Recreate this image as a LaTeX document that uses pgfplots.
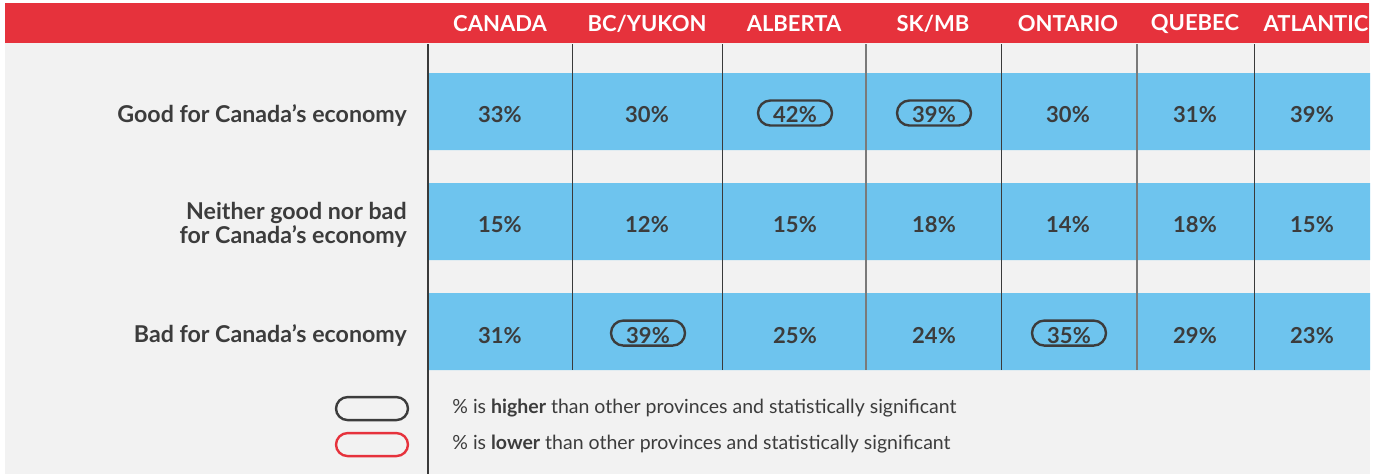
\documentclass[border=0pt]{standalone}
\usepackage{fontspec}
\setmainfont{Lato}
\usepackage{pgfplots}
\pgfplotsset{compat=1.18}
\usepackage{pgfplotstable}
\definecolor{hdr}{HTML}{E6323C}
\definecolor{band}{HTML}{6EC4EE}
\definecolor{bg}{HTML}{F2F2F2}
\definecolor{txt}{HTML}{3C3C3C}
\definecolor{linec}{HTML}{3A3A3A}
\definecolor{linel}{HTML}{7A7A7A}

% columns: x centre (px), row y (px), value (%)
\pgfplotstableread{
x y v
500 115 33
647 115 30
795 115 42
934 115 39
1068 115 30
1195 115 31
1312 115 39
500 225 15
647 225 12
795 225 15
934 225 18
1068 225 14
1195 225 18
1312 225 15
500 335 31
648 335 39
795 335 25
934 335 24
1069 335 35
1195 335 29
1312 335 23
}\vals

% significantly higher cells
\pgfplotstableread{
x y
795 113
934 113
648 333
1069 333
}\high

\begin{document}
\begin{tikzpicture}
\begin{axis}[
  scale only axis, width=688.5pt, height=237pt,
  xmin=0, xmax=1377, ymin=0, ymax=474, y dir=reverse,
  hide axis, clip=false,
]
\fill[white] (axis cs:0,0) rectangle (axis cs:1377,474);
\fill[bg] (axis cs:5,3) rectangle (axis cs:1370,474);
\fill[hdr] (axis cs:5,3) rectangle (axis cs:1369,43);

% blue row bands
\addplot[fill=band, draw=none] coordinates {(428,73) (1370,73) (1370,150) (428,150) (428,73)};
\addplot[fill=band, draw=none] coordinates {(428,183) (1370,183) (1370,260) (428,260) (428,183)};
\addplot[fill=band, draw=none] coordinates {(428,293) (1370,293) (1370,370) (428,370) (428,293)};

% column separators
\draw[linec, line width=0.6pt] (axis cs:428,44) -- (axis cs:428,474);
\draw[linec, line width=0.5pt] (axis cs:572,44) -- (axis cs:572,370);
\draw[linec, line width=0.5pt] (axis cs:722,44) -- (axis cs:722,370);
\draw[linel, line width=0.7pt] (axis cs:866,44) -- (axis cs:866,370);
\draw[linec, line width=0.5pt] (axis cs:1001,44) -- (axis cs:1001,370);
\draw[linel, line width=0.7pt] (axis cs:1137,44) -- (axis cs:1137,370);
\draw[linec, line width=0.5pt] (axis cs:1254,44) -- (axis cs:1254,370);

% header
\foreach \xx/\nn in {500/CANADA, 647/BC\slash YUKON, 794/ALBERTA, 933/SK\slash MB, 1068/ONTARIO, 1195/QUEBEC, 1316/ATLANTIC}{
  \edef\temp{\noexpand\node[text=white, font=\noexpand\fontsize{11}{13}\noexpand\selectfont\noexpand\bfseries, anchor=center] at (axis cs:\xx,24) {\nn};}
  \temp
}

% row labels
\node[anchor=east, inner sep=0pt, text=txt, font=\fontsize{11.6}{13}\selectfont\bfseries] at (axis cs:407,115) {Good for Canada’s economy};
\node[anchor=east, inner sep=0pt, text=txt, align=right, font=\fontsize{11.6}{12.2}\selectfont\bfseries] at (axis cs:407,225) {Neither good nor bad\\for Canada’s economy};
\node[anchor=east, inner sep=0pt, text=txt, font=\fontsize{11.6}{13}\selectfont\bfseries] at (axis cs:407,335) {Bad for Canada’s economy};

% values
\addplot[only marks, mark=none, point meta=explicit symbolic,
  nodes near coords={\pgfplotspointmeta\%},
  nodes near coords style={anchor=center, text=txt, font=\fontsize{11}{12}\selectfont\bfseries}]
  table[x=x, y=y, meta=v] {\vals};

% ovals around significantly higher values
\addplot[only marks, mark=none, point meta=explicit symbolic,
  nodes near coords={},
  nodes near coords style={anchor=center, draw=txt, line width=1.2pt, minimum width=37pt, minimum height=12.5pt, inner sep=0pt, rounded corners=6.2pt}]
  table[x=x, y=y, meta expr=0] {\high};

% legend
\draw[txt, line width=1.2pt, rounded corners=5.8pt] (axis cs:336,397) rectangle (axis cs:408,420);
\draw[hdr, line width=1.2pt, rounded corners=5.8pt] (axis cs:336,433) rectangle (axis cs:408,456);
\node[anchor=west, text=txt, font=\fontsize{9.75}{11}\selectfont, inner sep=0pt] at (axis cs:452,408) {\% is \textbf{higher} than other provinces and statistically significant};
\node[anchor=west, text=txt, font=\fontsize{9.75}{11}\selectfont, inner sep=0pt] at (axis cs:452,444) {\% is \textbf{lower} than other provinces and statistically significant};
\end{axis}
\end{tikzpicture}
\end{document}
